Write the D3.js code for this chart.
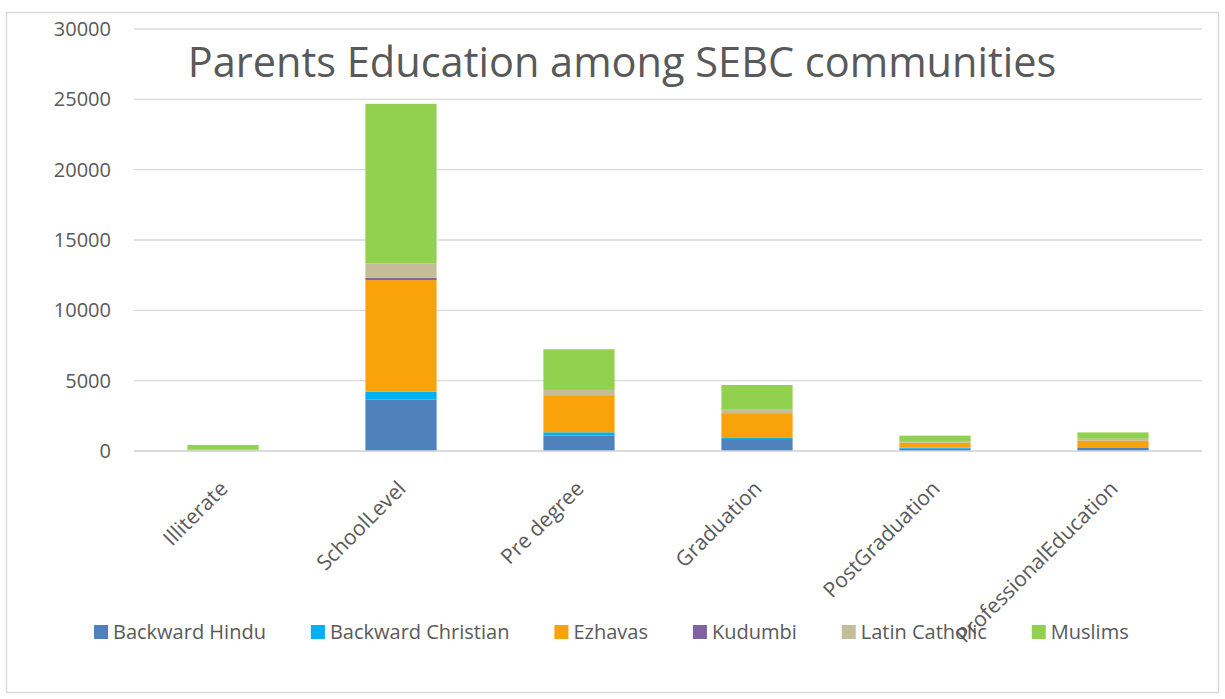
<!DOCTYPE html>
<html>
<head>
<meta charset="utf-8">
<script src="https://cdn.jsdelivr.net/npm/d3@7"></script>
<style>
  body { margin: 0; background: #fff; }
  text { font-family: "Open Sans", "Noto Sans", sans-serif; fill: #595959; }
</style>
</head>
<body>
<div id="chart"></div>
<script>
var width = 1225,
    height = 699;

var categories = ['Illiterate', 'SchoolLevel', 'Pre degree', 'Graduation', 'PostGraduation', 'ProfessionalEducation'];
var groups = ['Backward Hindu', 'Backward Christian', 'Ezhavas', 'Kudumbi', 'Latin Catholic', 'Muslims'];

// values, one array per community (same order as categories)
var backwardHindu     = [20, 3670, 1110, 850, 160, 240];
var backwardChristian = [10, 540, 220, 70, 80, 30];
var ezhavas           = [40, 7940, 2600, 1750, 350, 470];
var kudumbi           = [5, 170, 30, 20, 10, 10];
var latinCatholic     = [20, 1020, 380, 290, 110, 120];
var muslims           = [330, 11340, 2890, 1710, 380, 450];

var yTicks = [0, 5000, 10000, 15000, 20000, 25000, 30000];

var colors = ['#4f81bd', '#00b0f0', '#f9a20a', '#8064a2', '#c4bd97', '#92d050'];

var seriesValues = [backwardHindu, backwardChristian, ezhavas, kudumbi, latinCatholic, muslims];

var table = categories.map(function(c, i) {
    var row = { cat: c };
    groups.forEach(function(g, j) { row[g] = seriesValues[j][i]; });
    return row;
});

var stack = d3.stack().keys(groups)(table);

var svg = d3.select('#chart').append('svg')
    .attr('width', width)
    .attr('height', height);

// outer border
svg.append('rect')
    .attr('x', 6.5).attr('y', 12.5)
    .attr('width', 1212).attr('height', 680)
    .attr('fill', 'none')
    .attr('stroke', '#d9d9d9')
    .attr('stroke-width', 1.5);

var x = d3.scaleBand()
    .domain(categories)
    .range([134, 1202])
    .paddingInner(0.6)
    .paddingOuter(0.3);

var y = d3.scaleLinear()
    .domain([0, 30000])
    .range([451, 29]);

// gridlines
svg.append('g')
    .selectAll('line')
    .data(yTicks)
    .enter().append('line')
    .attr('x1', 134).attr('x2', 1202)
    .attr('y1', function(d) { return y(d); })
    .attr('y2', function(d) { return y(d); })
    .attr('stroke', '#d9d9d9')
    .attr('stroke-width', 1.3);

// y labels
var yAxis = d3.axisLeft(y).tickValues(yTicks).tickSize(0).tickPadding(0).tickFormat(d3.format('d'));
var ya = svg.append('g')
    .attr('transform', 'translate(111,0)')
    .call(yAxis);
ya.select('.domain').remove();
ya.selectAll('text')
    .attr('font-size', '20px')
    .style('font-family', '"Open Sans", "Noto Sans", sans-serif')
    .attr('fill', '#595959');

// bars
svg.append('g')
    .selectAll('g')
    .data(stack)
    .enter().append('g')
    .attr('fill', function(d, i) { return colors[i]; })
    .selectAll('rect')
    .data(function(d) { return d; })
    .enter().append('rect')
    .attr('x', function(d) { return x(d.data.cat); })
    .attr('width', x.bandwidth())
    .attr('y', function(d) { return y(d[1]); })
    .attr('height', function(d) { return y(d[0]) - y(d[1]); });

// axis line at zero
svg.append('line')
    .attr('x1', 134).attr('x2', 1202)
    .attr('y1', y(0)).attr('y2', y(0))
    .attr('stroke', '#d9d9d9')
    .attr('stroke-width', 1.5);

// x labels, rotated
svg.append('g')
    .selectAll('text')
    .data(categories)
    .enter().append('text')
    .attr('text-anchor', 'end')
    .attr('font-size', '21px')
    .attr('transform', function(d) {
        return 'translate(' + (x(d) + x.bandwidth() / 2 + 6) + ',490) rotate(-45)';
    })
    .text(function(d) { return d; });

// title
svg.append('text')
    .attr('x', 622)
    .attr('y', 77)
    .attr('text-anchor', 'middle')
    .attr('font-size', '41.5px')
    .text('Parents Education among SEBC communities');

// legend
var legend = svg.append('g');
var items = legend.selectAll('g')
    .data(groups)
    .enter().append('g');
items.append('rect')
    .attr('width', 14).attr('height', 14)
    .attr('y', 625)
    .attr('fill', function(d, i) { return colors[i]; });
items.append('text')
    .attr('x', 19)
    .attr('y', 639)
    .attr('font-size', '20px')
    .text(function(d) { return d; });

var pos = 94;
items.each(function() {
    var g = d3.select(this);
    g.attr('transform', 'translate(' + pos + ',0)');
    pos += 19 + g.select('text').node().getComputedTextLength() + 45;
});
</script>
</body>
</html>
